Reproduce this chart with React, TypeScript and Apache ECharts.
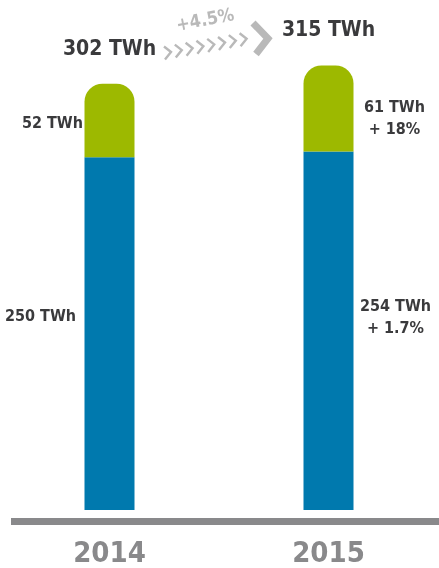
import React, { useEffect, useRef } from 'react';
import * as echarts from 'echarts';

const years = ['2014', '2015'];
const baseValues = [250, 254];
const topValues = [52, 61];
const totalValues = [302, 315];
const topGrowth = ['', '+ 18%'];
const baseGrowth = ['', '+ 1.7%'];
const totalGrowth = '+4.5%';

const FONT = "'Liberation Sans Narrow', 'DejaVu Sans Condensed', sans-serif";
const DARK = '#3a3a3c';
const BLUE = '#0079ae';
const GREEN = '#9db900';
const GREY = '#89898b';
const LIGHT = '#b9b9b9';

export default function App() {
  const ref = useRef<HTMLDivElement>(null);
  useEffect(() => {
    if (!ref.current) return;
    const chart = echarts.init(ref.current, null, { renderer: 'svg' });
    const baseData = baseValues.map((v, i) => ({
      value: v,
      label: {
        show: true,
        position: i === 0 ? [-44, '45%'] : [92, '46%'],
        align: 'center',
        verticalAlign: 'middle',
        formatter: baseGrowth[i] ? `${v} TWh\n${baseGrowth[i]}` : `${v} TWh`,
      },
    }));
    const topData = topValues.map((v, i) => ({
      value: v,
      label: {
        show: true,
        position: i === 0 ? [-32, '53%'] : [91, '60%'],
        align: 'center',
        verticalAlign: 'middle',
        formatter: topGrowth[i] ? `${v} TWh\n${topGrowth[i]}` : `${v} TWh`,
      },
    }));
    const labelStyle = {
      color: DARK,
      fontFamily: FONT,
      fontWeight: 'bold' as const,
      fontSize: 16,
      lineHeight: 22,
    };
    const chevrons: any[] = [];
    for (let i = 0; i < 8; i++) {
      const cx = 168 + i * 10.8;
      const cy = 53 - i * 1.9;
      chevrons.push({
        type: 'polyline',
        shape: { points: [[cx - 4, cy - 6.5], [cx + 3, cy - 1], [cx - 3, cy + 6.5]] },
        style: { stroke: LIGHT, lineWidth: 2.4, fill: null },
      });
    }
    chart.setOption({
      animation: false,
      grid: { left: 0, width: 438, top: 16, bottom: 58 },
      xAxis: {
        type: 'category',
        data: years,
        axisLine: { show: false },
        axisTick: { show: false },
        axisLabel: {
          color: GREY,
          fontFamily: FONT,
          fontWeight: 'bold',
          fontSize: 29,
          margin: 27,
        },
      },
      yAxis: {
        type: 'value',
        min: 0,
        max: 350,
        show: false,
        splitLine: { show: false },
      },
      series: [
        {
          type: 'bar',
          stack: 'a',
          barWidth: 50,
          data: baseData,
          itemStyle: { color: BLUE },
          label: labelStyle,
        },
        {
          type: 'bar',
          stack: 'a',
          barWidth: 50,
          data: topData,
          itemStyle: { color: GREEN, borderRadius: [18, 18, 0, 0] },
          label: labelStyle,
        },
        {
          type: 'scatter',
          data: totalValues,
          symbolSize: 1,
          itemStyle: { color: 'rgba(0,0,0,0)', opacity: 1 },
          label: {
            show: true,
            position: 'inside',
            offset: [0, -36],
            color: DARK,
            fontFamily: FONT,
            fontWeight: 'bold',
            fontSize: 21,
            formatter: (p: any) => `${p.value} TWh`,
          },
        },
      ],
      graphic: [
        {
          type: 'rect',
          shape: { x: 11, y: 518, width: 428, height: 7 },
          style: { fill: GREY },
        },
        ...chevrons,
        {
          type: 'polyline',
          shape: { points: [[253, 23], [268, 38.5], [256, 54]] },
          style: { stroke: LIGHT, lineWidth: 7, fill: null, lineJoin: 'miter' },
        },
        {
          type: 'text',
          x: 205,
          y: 19,
          rotation: (11 * Math.PI) / 180,
          style: {
            text: totalGrowth,
            fill: LIGHT,
            font: `bold 18px ${FONT}`,
            align: 'center',
            verticalAlign: 'middle',
          },
        },
      ],
    });
    return () => chart.dispose();
  }, []);
  return (
    <div
      ref={ref}
      style={{ position: 'fixed', left: 0, top: 0, width: 439, height: 568 }}
    />
  );
}
